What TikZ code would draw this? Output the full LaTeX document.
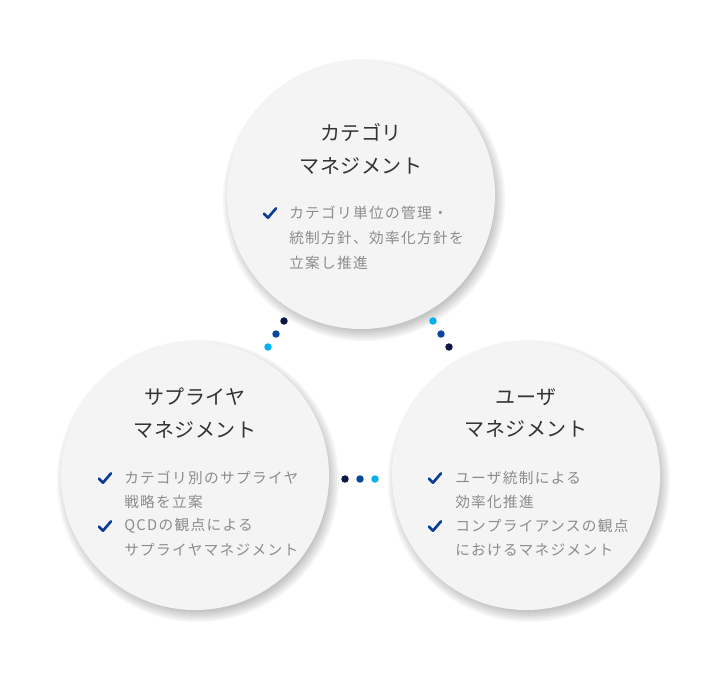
\documentclass[tikz,border=0pt]{standalone}
\usepackage{fontspec}
\usepackage{tikz}
\usetikzlibrary{positioning}
\newfontfamily\jpfont[LetterSpace=3]{Noto Sans CJK JP}
\newfontfamily\jpbody[LetterSpace=9]{Noto Sans CJK JP}
\definecolor{bubblegray}{RGB}{244,244,244}
\definecolor{titlegray}{RGB}{51,51,51}
\definecolor{bodygray}{RGB}{140,140,140}
\definecolor{checkblue}{RGB}{10,62,148}
\definecolor{dotnavy}{RGB}{14,22,66}
\definecolor{dotblue}{RGB}{8,72,158}
\definecolor{dotsky}{RGB}{0,176,240}
\tikzset{
	bubble/.style={circle, minimum size=201pt, inner sep=0pt, fill=bubblegray},
	titletext/.style={align=center, text=titlegray, inner sep=0pt,
		font=\jpfont\fontsize{15}{24.5}\selectfont},
	bodytext/.style={anchor=west, text=bodygray, inner sep=0pt,
		font=\jpbody\fontsize{11}{18}\selectfont},
	checkmark/.style={minimum width=11pt, minimum height=9pt, inner sep=0pt,
		path picture={\draw[checkblue, line width=2pt, line cap=round, line join=round]
			([xshift=1pt,yshift=-0.5pt]path picture bounding box.west)
			-- ([xshift=-1.5pt,yshift=1pt]path picture bounding box.south)
			-- ([xshift=-1pt,yshift=-1pt]path picture bounding box.north east);}}
}

\begin{document}
\begin{tikzpicture}[x=0.75pt,y=-0.75pt]
	\fill[white] (0,0) rectangle (721,672);
	\foreach \name/\x/\y in {cat/361/195, sup/195/476, usr/526/476}{
		\foreach \r in {141,139,...,131}
			\fill[black, opacity=0.04] (\x+3,\y+5) circle ({\r*0.75pt});
		\node[bubble] (\name) at (\x,\y) {};
	}

	\node[titletext] (cattitle) at (361,149) {カテゴリ\\マネジメント};
	\node[titletext] (suptitle) at (195,413) {サプライヤ\\マネジメント};
	\node[titletext] (usrtitle) at (526,413) {ユーザ\\マネジメント};

	\node[checkmark] (catc1) at (270,213) {};
	\foreach \txt/\yy [count=\k] in {カテゴリ単位の管理・/213, 統制方針、効率化方針を/238, 立案し推進/263}
		\node[bodytext] (cat-\k) at (289,\yy) {\txt};

	\node[checkmark] (supc1) at (105,478) {};
	\node[checkmark] (supc2) at (105,526) {};
	\foreach \txt/\yy [count=\k] in {カテゴリ別のサプライヤ/478, 戦略を立案/502, QCDの観点による/526, サプライヤマネジメント/550}
		\node[bodytext] (sup-\k) at (124,\yy) {\txt};

	\node[checkmark] (usrc1) at (435,478) {};
	\node[checkmark] (usrc2) at (435,526) {};
	\foreach \txt/\yy [count=\k] in {ユーザ統制による/478, 効率化推進/502, コンプライアンスの観点/526, におけるマネジメント/550}
		\node[bodytext] (usr-\k) at (455,\yy) {\txt};

	\foreach \c/\x/\y in {dotnavy/284/321, dotblue/276/334, dotsky/268/347,
		dotsky/433/321, dotblue/441/334, dotnavy/449/347,
		dotnavy/345/479, dotblue/360/479, dotsky/375/479}
		\fill[\c] (\x,\y) circle (2.8pt);
\end{tikzpicture}
\end{document}
